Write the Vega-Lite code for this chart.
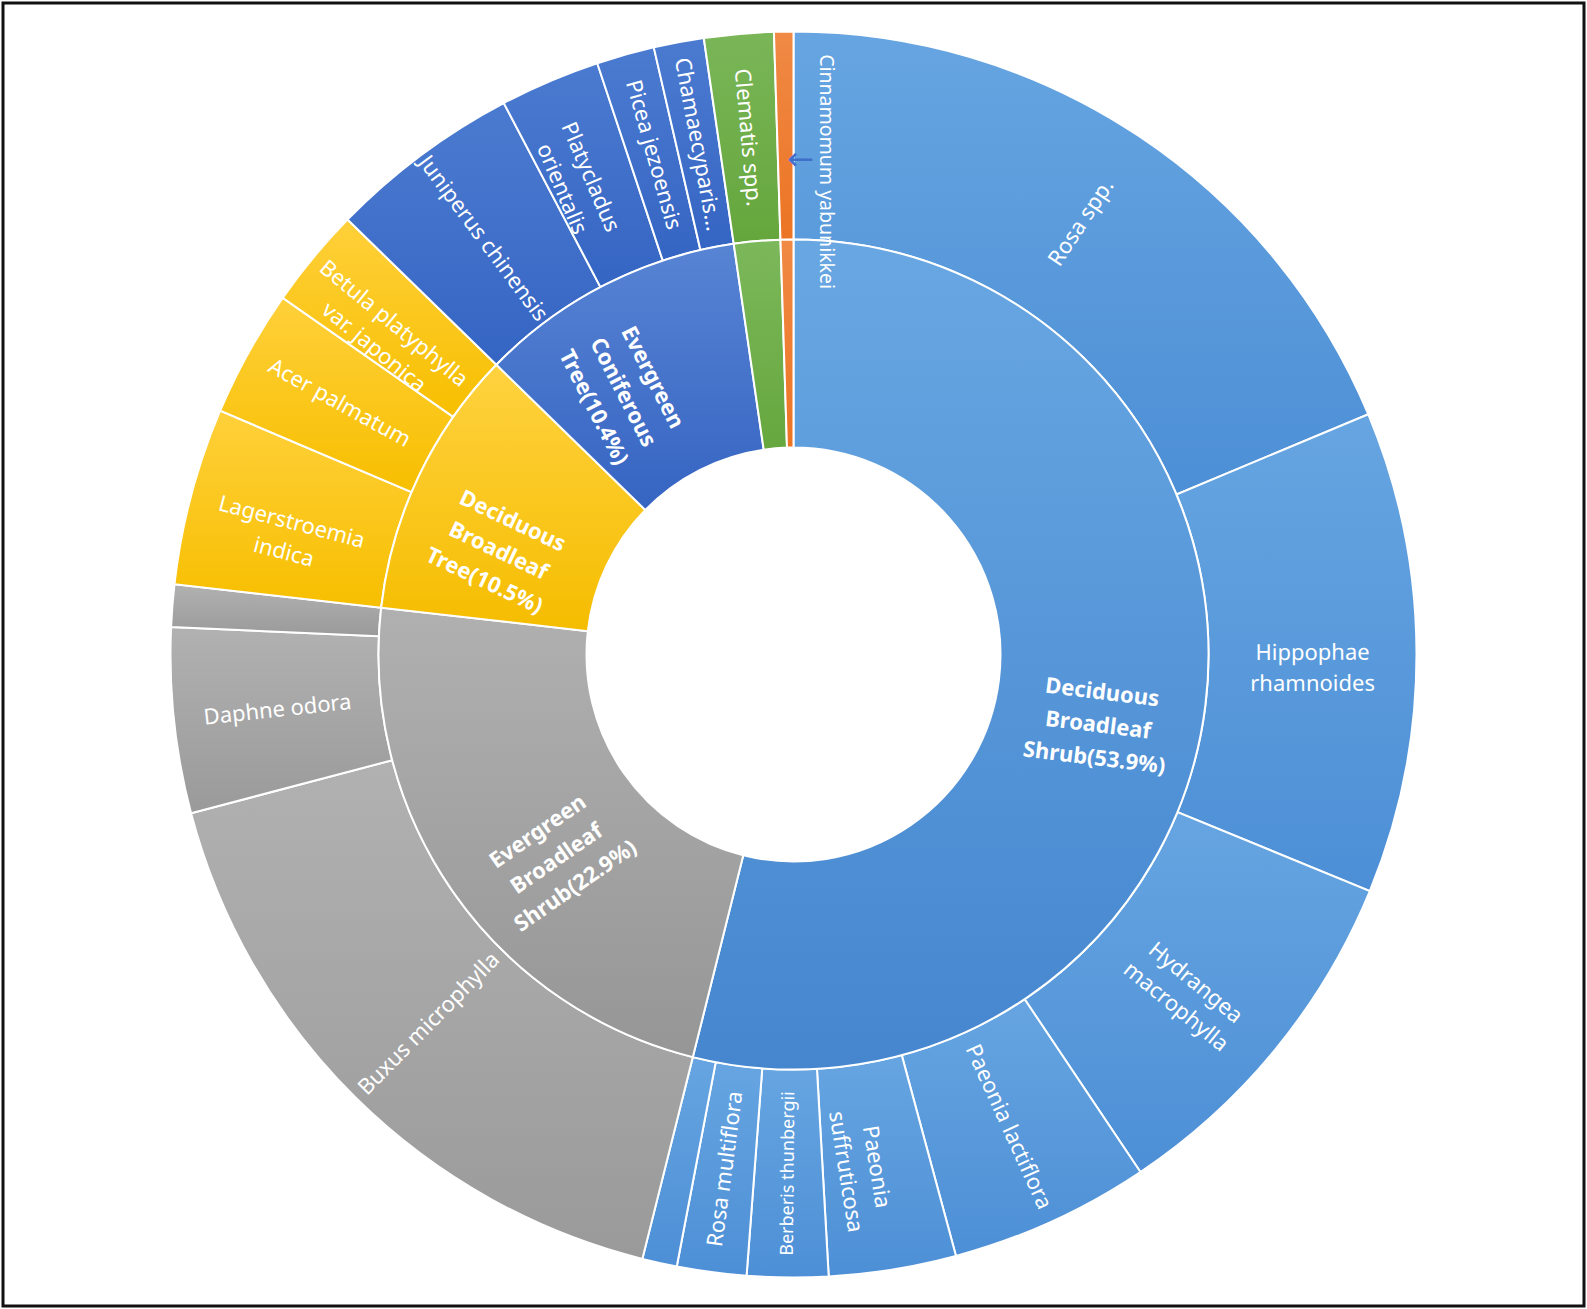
{
  "$schema": "https://vega.github.io/schema/vega-lite/v6.json",
  "width": 1587,
  "height": 1309,
  "autosize": {"type": "fit", "contains": "padding"},
  "padding": 3,
  "background": "white",
  "view": {"stroke": "#111111", "strokeWidth": 3},
  "config": {"text": {"font": "Noto Sans", "lineBreak": "\n"}},
  "datasets": {
    "species": [
      {"group": "Deciduous Broadleaf Shrub", "species": "Rosa spp.", "label": "Rosa spp.", "value": 18.7},
      {"group": "Deciduous Broadleaf Shrub", "species": "Hippophae rhamnoides", "label": "Hippophae\nrhamnoides", "value": 12.5},
      {"group": "Deciduous Broadleaf Shrub", "species": "Hydrangea macrophylla", "label": "Hydrangea\nmacrophylla", "value": 9.4},
      {"group": "Deciduous Broadleaf Shrub", "species": "Paeonia lactiflora", "label": "Paeonia lactiflora", "value": 5.2},
      {"group": "Deciduous Broadleaf Shrub", "species": "Paeonia suffruticosa", "label": "Paeonia\nsuffruticosa", "value": 3.3},
      {"group": "Deciduous Broadleaf Shrub", "species": "Berberis thunbergii", "label": "Berberis thunbergii", "value": 2.1},
      {"group": "Deciduous Broadleaf Shrub", "species": "Rosa multiflora", "label": "Rosa multiflora", "value": 1.8},
      {"group": "Deciduous Broadleaf Shrub", "species": "Other deciduous shrubs", "label": "", "value": 0.9},
      {"group": "Evergreen Broadleaf Shrub", "species": "Buxus microphylla", "label": "Buxus microphylla", "value": 17.0},
      {"group": "Evergreen Broadleaf Shrub", "species": "Daphne odora", "label": "Daphne odora", "value": 4.8},
      {"group": "Evergreen Broadleaf Shrub", "species": "Other evergreen shrubs", "label": "", "value": 1.1},
      {"group": "Deciduous Broadleaf Tree", "species": "Lagerstroemia indica", "label": "Lagerstroemia\nindica", "value": 4.6},
      {"group": "Deciduous Broadleaf Tree", "species": "Acer palmatum", "label": "Acer palmatum", "value": 3.3},
      {"group": "Deciduous Broadleaf Tree", "species": "Betula platyphylla var. japonica", "label": "Betula platyphylla\nvar. japonica", "value": 2.6},
      {"group": "Evergreen Coniferous Tree", "species": "Juniperus chinensis", "label": "Juniperus chinensis", "value": 5.0},
      {"group": "Evergreen Coniferous Tree", "species": "Platycladus orientalis", "label": "Platycladus\norientalis", "value": 2.6},
      {"group": "Evergreen Coniferous Tree", "species": "Picea jezoensis", "label": "Picea jezoensis", "value": 1.5},
      {"group": "Evergreen Coniferous Tree", "species": "Chamaecyparis", "label": "Chamaecyparis...", "value": 1.3},
      {"group": "Deciduous Vine", "species": "Clematis spp.", "label": "Clematis spp.", "value": 1.8},
      {"group": "Evergreen Broadleaf Tree", "species": "Cinnamomum yabunikkei", "label": "Cinnamomum yabunikkei", "value": 0.5}
    ],
    "groups": [
      {"group": "Deciduous Broadleaf Shrub", "value": 53.9},
      {"group": "Evergreen Broadleaf Shrub", "value": 22.9},
      {"group": "Deciduous Broadleaf Tree", "value": 10.5},
      {"group": "Evergreen Coniferous Tree", "value": 10.4},
      {"group": "Deciduous Vine", "value": 1.8},
      {"group": "Evergreen Broadleaf Tree", "value": 0.5}
    ]
  },
  "layer": [
    {
      "data": {"name": "species"},
      "transform": [
        {"window": [{"op": "row_number", "as": "idx"}]},
        {"stack": "value", "groupby": [], "sort": [{"field": "idx", "order": "ascending"}], "as": ["v0", "v1"]}
      ],
      "mark": {"type": "arc", "innerRadius": 415, "outerRadius": 623, "stroke": "white", "strokeWidth": 2},
      "encoding": {
        "theta": {"field": "v0", "type": "quantitative", "stack": null, "scale": {"domain": [0, 100]}},
        "theta2": {"field": "v1"},
        "fill": {
          "condition": [
            {"test": "datum.group === 'Deciduous Broadleaf Shrub'", "value": {"gradient": "linear", "x1": 0, "y1": 0, "x2": 0, "y2": 1, "stops": [{"offset": 0, "color": "#66a5e1"}, {"offset": 1, "color": "#4d8fd6"}]}},
            {"test": "datum.group === 'Evergreen Broadleaf Shrub'", "value": {"gradient": "linear", "x1": 0, "y1": 0, "x2": 0, "y2": 1, "stops": [{"offset": 0, "color": "#b1b1b1"}, {"offset": 1, "color": "#9a9a9a"}]}},
            {"test": "datum.group === 'Deciduous Broadleaf Tree'", "value": {"gradient": "linear", "x1": 0, "y1": 0, "x2": 0, "y2": 1, "stops": [{"offset": 0, "color": "#ffd03a"}, {"offset": 1, "color": "#f7bf00"}]}},
            {"test": "datum.group === 'Evergreen Coniferous Tree'", "value": {"gradient": "linear", "x1": 0, "y1": 0, "x2": 0, "y2": 1, "stops": [{"offset": 0, "color": "#4b7bd0"}, {"offset": 1, "color": "#3565c3"}]}},
            {"test": "datum.group === 'Deciduous Vine'", "value": {"gradient": "linear", "x1": 0, "y1": 0, "x2": 0, "y2": 1, "stops": [{"offset": 0, "color": "#7ab658"}, {"offset": 1, "color": "#65a63c"}]}}
          ],
          "value": {"gradient": "linear", "x1": 0, "y1": 0, "x2": 0, "y2": 1, "stops": [{"offset": 0, "color": "#f08a45"}, {"offset": 1, "color": "#ec7424"}]}
        }
      }
    },
    {
      "data": {"name": "groups"},
      "transform": [
        {"window": [{"op": "row_number", "as": "idx"}]},
        {"stack": "value", "groupby": [], "sort": [{"field": "idx", "order": "ascending"}], "as": ["v0", "v1"]}
      ],
      "mark": {"type": "arc", "innerRadius": 207, "outerRadius": 415, "stroke": "white", "strokeWidth": 2},
      "encoding": {
        "theta": {"field": "v0", "type": "quantitative", "stack": null, "scale": {"domain": [0, 100]}},
        "theta2": {"field": "v1"},
        "fill": {
          "condition": [
            {"test": "datum.group === 'Deciduous Broadleaf Shrub'", "value": {"gradient": "linear", "x1": 0, "y1": 0, "x2": 0, "y2": 1, "stops": [{"offset": 0, "color": "#68a7e2"}, {"offset": 1, "color": "#4586cf"}]}},
            {"test": "datum.group === 'Evergreen Broadleaf Shrub'", "value": {"gradient": "linear", "x1": 0, "y1": 0, "x2": 0, "y2": 1, "stops": [{"offset": 0, "color": "#b0b0b0"}, {"offset": 1, "color": "#969696"}]}},
            {"test": "datum.group === 'Deciduous Broadleaf Tree'", "value": {"gradient": "linear", "x1": 0, "y1": 0, "x2": 0, "y2": 1, "stops": [{"offset": 0, "color": "#ffd23f"}, {"offset": 1, "color": "#f5bd00"}]}},
            {"test": "datum.group === 'Evergreen Coniferous Tree'", "value": {"gradient": "linear", "x1": 0, "y1": 0, "x2": 0, "y2": 1, "stops": [{"offset": 0, "color": "#5884d4"}, {"offset": 1, "color": "#3564c2"}]}},
            {"test": "datum.group === 'Deciduous Vine'", "value": {"gradient": "linear", "x1": 0, "y1": 0, "x2": 0, "y2": 1, "stops": [{"offset": 0, "color": "#7cb85b"}, {"offset": 1, "color": "#66a73e"}]}}
          ],
          "value": {"gradient": "linear", "x1": 0, "y1": 0, "x2": 0, "y2": 1, "stops": [{"offset": 0, "color": "#f08a45"}, {"offset": 1, "color": "#ec7424"}]}
        }
      }
    },
    {
      "data": {"name": "species"},
      "transform": [
        {"window": [{"op": "row_number", "as": "idx"}]},
        {"stack": "value", "groupby": [], "sort": [{"field": "idx", "order": "ascending"}], "as": ["v0", "v1"]},
        {"filter": "datum.label !== '' && datum.species !== 'Cinnamomum yabunikkei'"},
        {"calculate": "(datum.v0 + datum.v1) / 2", "as": "mid"},
        {"calculate": "datum.mid * 3.6 < 180 ? datum.mid * 3.6 - 90 : datum.mid * 3.6 - 270", "as": "ang"}
      ],
      "mark": {"type": "text", "radius": 519, "align": "center", "baseline": "middle", "color": "white", "lineHeight": 31},
      "encoding": {
        "theta": {"field": "mid", "type": "quantitative", "stack": null, "scale": {"domain": [0, 100]}},
        "text": {"field": "label"},
        "angle": {"field": "ang", "type": "quantitative", "scale": null},
        "size": {"condition": {"test": "datum.species === 'Berberis thunbergii'", "value": 18}, "value": 22}
      }
    },
    {
      "data": {"name": "species"},
      "transform": [
        {"window": [{"op": "row_number", "as": "idx"}]},
        {"stack": "value", "groupby": [], "sort": [{"field": "idx", "order": "ascending"}], "as": ["v0", "v1"]},
        {"filter": "datum.species === 'Cinnamomum yabunikkei'"},
        {"calculate": "(datum.v0 + datum.v1) / 2", "as": "mid"}
      ],
      "layer": [
        {
          "mark": {"type": "text", "radius": 484, "thetaOffset": 0.083, "align": "center", "baseline": "middle", "color": "white", "angle": 90, "fontSize": 19.5},
          "encoding": {
            "theta": {"field": "mid", "type": "quantitative", "stack": null, "scale": {"domain": [0, 100]}},
            "text": {"field": "label"}
          }
        },
        {
          "mark": {"type": "text", "radius": 495, "thetaOffset": 0.03, "align": "center", "baseline": "middle", "color": "#3f6fc8", "font": "DejaVu Sans", "fontSize": 32, "text": "←"},
          "encoding": {
            "theta": {"field": "mid", "type": "quantitative", "stack": null, "scale": {"domain": [0, 100]}}
          }
        }
      ]
    },
    {
      "data": {"name": "groups"},
      "transform": [
        {"window": [{"op": "row_number", "as": "idx"}]},
        {"stack": "value", "groupby": [], "sort": [{"field": "idx", "order": "ascending"}], "as": ["v0", "v1"]},
        {"filter": "datum.value >= 5"},
        {"calculate": "(datum.v0 + datum.v1) / 2", "as": "mid"},
        {"calculate": "datum.mid * 3.6 < 180 ? datum.mid * 3.6 - 90 : datum.mid * 3.6 - 270", "as": "ang"},
        {"calculate": "replace(datum.group, / /g, '\\n') + '(' + format(datum.value, '.1f') + '%)'", "as": "label"}
      ],
      "mark": {"type": "text", "radius": 311, "align": "center", "baseline": "middle", "color": "white", "fontWeight": "bold", "fontSize": 22, "lineHeight": 33},
      "encoding": {
        "theta": {"field": "mid", "type": "quantitative", "stack": null, "scale": {"domain": [0, 100]}},
        "text": {"field": "label"},
        "angle": {"field": "ang", "type": "quantitative", "scale": null}
      }
    }
  ]
}
